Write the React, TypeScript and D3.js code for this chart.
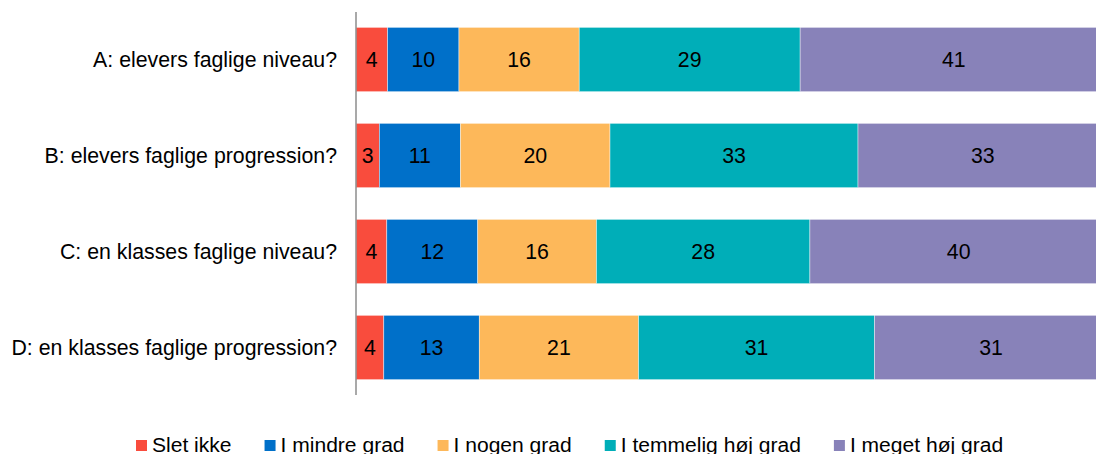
import React, { useLayoutEffect, useRef, useState } from 'react';
import * as d3 from 'd3';

const questions = [
  'A: elevers faglige niveau?',
  'B: elevers faglige progression?',
  'C: en klasses faglige niveau?',
  'D: en klasses faglige progression?',
];
const answers = ['Slet ikke', 'I mindre grad', 'I nogen grad', 'I temmelig høj grad', 'I meget høj grad'];
const colors = ['#F94C3D', '#0070C9', '#FDB85A', '#00AEB8', '#8882B9'];

// percent per question, in answer order
const sletIkke = [4.2, 3.1, 4.1, 3.7];
const mindreGrad = [9.5, 10.8, 12.1, 12.7];
const nogenGrad = [16.0, 19.9, 15.8, 21.2];
const temmeligHoej = [29.4, 33.0, 28.4, 31.4];
const megetHoej = [40.9, 33.2, 39.6, 31.0];

const W = 1096;
const H = 454;
const FONT = '"Liberation Sans", Arial, sans-serif';
const FS = 21.3;
const LEGEND_FS = 21.05;

export default function App() {
  const legendRef = useRef<SVGGElement>(null);
  const [widths, setWidths] = useState<number[] | null>(null);

  const rows = questions.map((q, i) => ({
    q,
    vals: [sletIkke[i], mindreGrad[i], nogenGrad[i], temmeligHoej[i], megetHoej[i]],
  }));

  const x = d3.scaleLinear().domain([0, 100]).range([356, 1107.5]);
  const y = d3.scaleBand<string>().domain(questions).range([12, 395]).paddingInner(0.33).paddingOuter(0.16);

  useLayoutEffect(() => {
    if (!legendRef.current) return;
    const ws: number[] = [];
    d3.select(legendRef.current)
      .selectAll<SVGTextElement, unknown>('text')
      .each(function () {
        ws.push(this.getComputedTextLength());
      });
    setWidths(ws);
  }, []);

  // legend layout
  const legendX: number[] = [];
  let cx = 136;
  answers.forEach((_, i) => {
    legendX.push(cx);
    const tw = widths ? widths[i] : answers[i].length * 10;
    cx += 11 + 5 + tw + 33;
  });

  return (
    <svg width={W} height={H} style={{ position: 'absolute', left: 0, top: 0 }} fontFamily={FONT}>
      <rect width={W} height={H} fill="#fff" />
      {rows.map((r) => {
        const y0 = y(r.q)!;
        const bh = y.bandwidth();
        let acc = 0;
        return (
          <g key={r.q}>
            <text x={337} y={y0 + bh / 2 + 7.5} textAnchor="end" fontSize={FS} fill="#000">
              {r.q}
            </text>
            {r.vals.map((v, j) => {
              const start = acc;
              acc += v;
              const x0 = x(start);
              const x1 = x(start + v);
              return (
                <g key={j}>
                  <rect
                    x={x0}
                    y={y0}
                    width={x1 - x0}
                    height={bh}
                    fill={colors[j]}
                    stroke="#fff"
                    strokeWidth={0.6}
                    strokeOpacity={0.7}
                  />
                  <text x={(x0 + x1) / 2} y={y0 + bh / 2 + 7.5} textAnchor="middle" fontSize={FS} fill="#000">
                    {Math.round(v)}
                  </text>
                </g>
              );
            })}
          </g>
        );
      })}
      <line x1={356} x2={356} y1={12} y2={395} stroke="#8c8c8c" strokeWidth={1.5} />
      <g ref={legendRef}>
        {answers.map((a, i) => (
          <g key={a}>
            <rect x={legendX[i]} y={440} width={11} height={11} fill={colors[i]} />
            <text x={legendX[i] + 16} y={451.5} fontSize={LEGEND_FS} fill="#000">
              {a}
            </text>
          </g>
        ))}
      </g>
    </svg>
  );
}
